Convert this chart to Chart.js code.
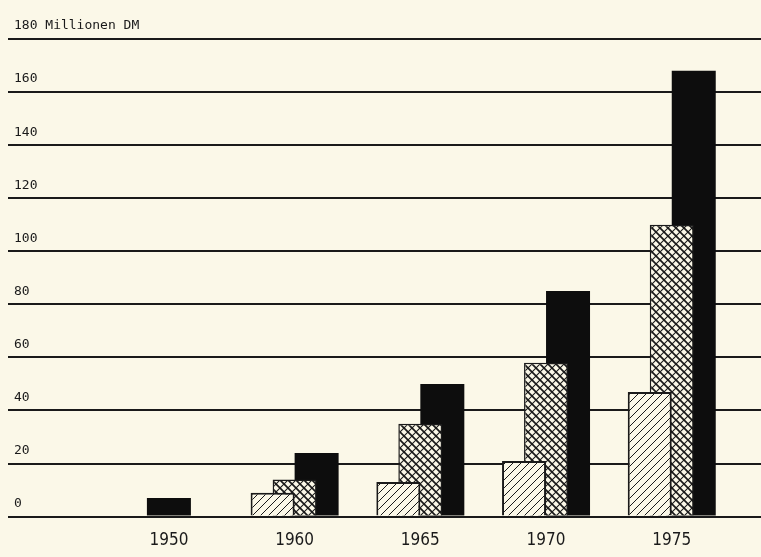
<!DOCTYPE html>
<html>
<head>
<meta charset="utf-8">
<script src="https://cdn.jsdelivr.net/npm/chart.js@4.4.1/dist/chart.umd.min.js"></script>
<style>
html,body{margin:0;padding:0;background:#fbf8e8;}
</style>
</head>
<body>
<canvas id="chart" width="761" height="557"></canvas>
<script>
// values in Millionen DM
const years = ["1950", "1960", "1965", "1970", "1975"];
const hatchedValues = [null, 9, 13, 21, 47];
const crossValues = [null, 14, 35, 58, 110];
const blackValues = [7, 24, 50, 85, 168];
const yTickLabels = ["0", "20", "40", "60", "80", "100", "120", "140", "160", "180 Millionen DM"];

const ink = "#1a1a1a";
const paper = "#fbf8e8";

function makePattern(drawFn){
    let s = 8;
    let c = document.createElement("canvas");
    c.width = s; c.height = s;
    let g = c.getContext("2d");
    g.fillStyle = paper;
    g.fillRect(0, 0, s, s);
    g.strokeStyle = ink;
    drawFn(g, s);
    return g.createPattern(c, "repeat");
}

function slash(g, s){
    g.beginPath();
    g.moveTo(-1, s + 1); g.lineTo(s + 1, -1);
    g.moveTo(-1, 1); g.lineTo(1, -1);
    g.moveTo(s - 1, s + 1); g.lineTo(s + 1, s - 1);
    g.stroke();
}
function backslash(g, s){
    g.beginPath();
    g.moveTo(-1, -1); g.lineTo(s + 1, s + 1);
    g.moveTo(s - 1, -1); g.lineTo(s + 1, 1);
    g.moveTo(-1, s - 1); g.lineTo(1, s + 1);
    g.stroke();
}

const hatchPattern = makePattern((g, s) => { g.lineWidth = 1; slash(g, s); });
const crossPattern = makePattern((g, s) => {
    g.lineWidth = 1.1; slash(g, s);
    g.lineWidth = 1.7; backslash(g, s);
});

const toPoints = arr => arr.map((v, i) => ({x: i, y: v}));

const chart = new Chart(document.getElementById("chart"), {
    type: "bar",
    data: {
        datasets: [
            {data: toPoints(hatchedValues), backgroundColor: hatchPattern, borderColor: ink, borderWidth: 2},
            {data: toPoints(crossValues), backgroundColor: crossPattern, borderColor: ink, borderWidth: 1.5},
            {data: toPoints(blackValues), backgroundColor: "#0d0d0d", borderWidth: 0}
        ]
    },
    options: {
        responsive: false,
        animation: false,
        skipNull: true,
        barPercentage: 2.0,
        categoryPercentage: 0.525,
        maxBarThickness: 44,
        layout: {padding: {left: -4, right: 0, top: 39, bottom: 0}},
        plugins: {legend: {display: false}, tooltip: {enabled: false}},
        scales: {
            x: {
                type: "linear",
                min: -1.28,
                max: 4.71,
                offset: false,
                grid: {display: false},
                border: {display: false},
                ticks: {
                    stepSize: 1,
                    includeBounds: false,
                    autoSkip: false,
                    maxRotation: 0,
                    padding: 6,
                    color: ink,
                    font: {family: "'Liberation Sans Narrow', 'DejaVu Sans Condensed', sans-serif", size: 17},
                    callback: v => years[v] ?? ""
                }
            },
            y: {
                min: 0,
                max: 180,
                grid: {color: ink, lineWidth: 2, drawTicks: false},
                border: {display: false},
                ticks: {
                    stepSize: 20,
                    mirror: true,
                    padding: 6,
                    labelOffset: -13,
                    color: ink,
                    font: {family: "'DejaVu Sans Mono', monospace", size: 13},
                    callback: (v, i) => yTickLabels[i]
                }
            }
        }
    }
});
</script>
</body>
</html>
